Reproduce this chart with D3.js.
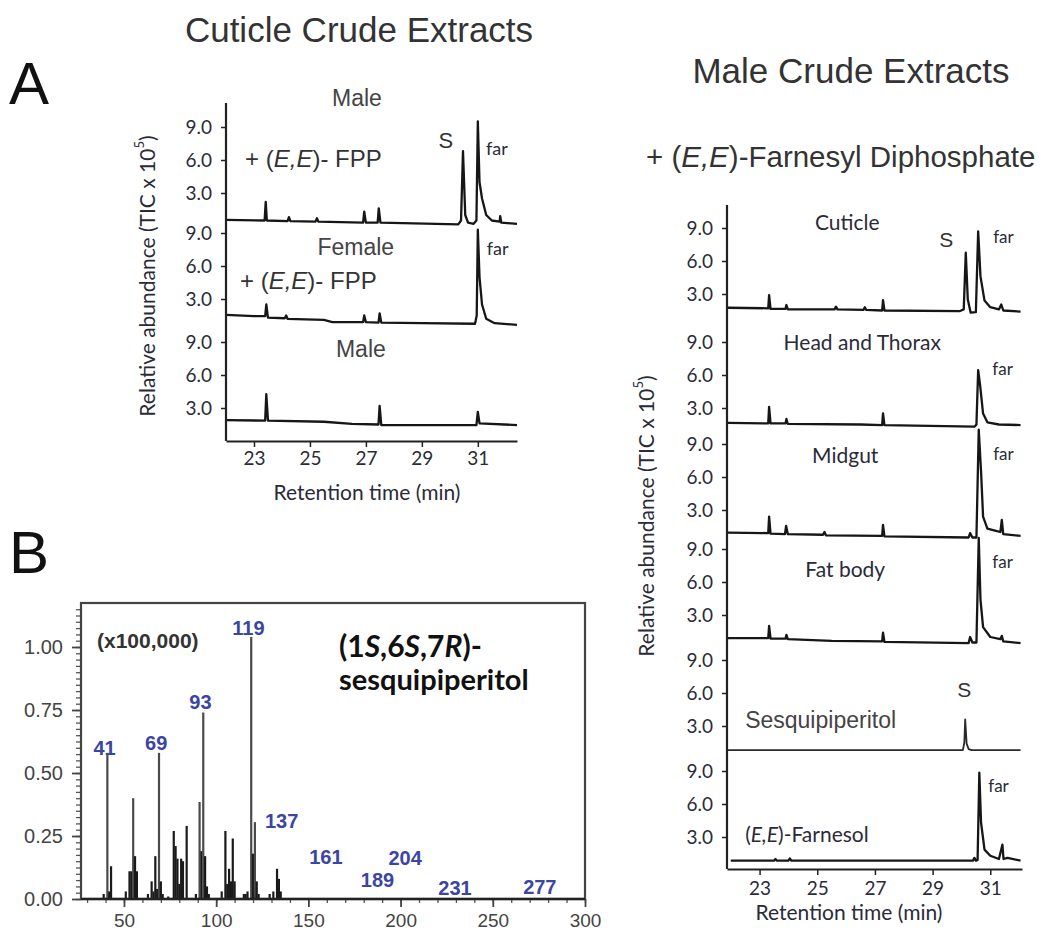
<!DOCTYPE html>
<html>
<head>
<meta charset="utf-8">
<script src="https://cdn.jsdelivr.net/npm/d3@7"></script>
<style>
  body { margin: 0; background: #fff; }
</style>
</head>
<body>
<div id="fig"></div>
<script>
// ---- data ----
// chromatogram traces: [retention time (min), abundance (TIC x 10^5)]
const yTickValues = [3.0, 6.0, 9.0];
const timeTicks = [23, 25, 27, 29, 31];

const cutMaleFPP = [[22, 0.55], [23.38, 0.5], [23.42, 2.2], [23.46, 0.5], [24.2, 0.45], [24.25, 0.8], [24.3, 0.45],
  [25.2, 0.4], [25.25, 0.7], [25.3, 0.4], [26.9, 0.3], [26.94, 1.3], [27.0, 0.3], [27.42, 0.3], [27.46, 1.6],
  [27.52, 0.3], [30.3, 0.15], [30.4, 0.5], [30.47, 6.8], [30.55, 1.0], [30.65, 0.3], [30.85, 0.2], [30.95, 0.5],
  [31.0, 9.5], [31.06, 4.0], [31.15, 2.5], [31.3, 1.0], [31.5, 0.5], [31.78, 0.4], [31.8, 0.9], [31.84, 0.3], [32.4, 0.2]];
const cutFemaleFPP = [[22, 1.55], [23.0, 1.45], [23.4, 1.45], [23.44, 2.5], [23.5, 1.3], [24.1, 1.25], [24.15, 1.5],
  [24.2, 1.2], [25.5, 1.1], [25.8, 0.9], [26.9, 0.9], [26.94, 1.5], [27.0, 0.9], [27.45, 0.85], [27.49, 1.7],
  [27.55, 0.85], [29, 0.8], [30.9, 0.75], [30.96, 1.5], [31.0, 9.3], [31.06, 5.0], [31.15, 2.5], [31.3, 1.2],
  [31.6, 0.8], [32.4, 0.65]];
const cutMale = [[22, 1.9], [23.4, 1.85], [23.44, 4.25], [23.5, 1.85], [25.5, 1.75], [26.5, 1.55], [27.45, 1.5],
  [27.49, 3.2], [27.55, 1.45], [30.95, 1.45], [31.0, 2.65], [31.06, 1.6], [32.4, 1.45]];

const maleCuticle = [[21.9, 1.75], [23.3, 1.7], [23.33, 2.9], [23.38, 1.65], [23.9, 1.65], [23.93, 2.0], [23.98, 1.6],
  [25.6, 1.6], [25.65, 1.85], [25.7, 1.6], [26.6, 1.55], [26.65, 1.8], [26.7, 1.55], [27.25, 1.5], [27.28, 2.45],
  [27.33, 1.5], [29.95, 1.45], [30.08, 1.6], [30.15, 6.75], [30.22, 2.5], [30.32, 1.3], [30.5, 1.35], [30.58, 8.7],
  [30.66, 4.6], [30.8, 2.4], [31.0, 1.8], [31.3, 1.6], [31.38, 2.05], [31.45, 1.5], [32.05, 1.4]];
const maleHeadThorax = [[21.9, 1.65], [23.3, 1.6], [23.33, 3.1], [23.38, 1.6], [23.9, 1.6], [23.93, 2.0], [23.98, 1.55],
  [26.5, 1.5], [27.25, 1.45], [27.28, 2.5], [27.33, 1.45], [30.45, 1.3], [30.52, 1.5], [30.58, 6.45], [30.65, 5.0],
  [30.75, 2.5], [30.9, 1.7], [31.3, 1.5], [32.05, 1.45]];
const maleMidgut = [[21.9, 0.95], [23.3, 0.9], [23.33, 2.4], [23.38, 0.85], [23.88, 0.8], [23.92, 1.55], [23.98, 0.8],
  [25.2, 0.75], [25.25, 1.0], [25.3, 0.7], [27.25, 0.65], [27.28, 1.65], [27.33, 0.6], [30.25, 0.5], [30.3, 0.9],
  [30.38, 0.5], [30.52, 0.5], [30.6, 10.3], [30.68, 6.5], [30.75, 2.4], [30.9, 1.3], [31.2, 1.1], [31.35, 1.0],
  [31.4, 2.1], [31.45, 0.8], [32.05, 0.65]];
const maleFatBody = [[21.9, 0.9], [23.3, 0.9], [23.33, 2.0], [23.38, 0.85], [23.9, 0.85], [23.93, 1.2], [23.98, 0.8],
  [25.5, 0.65], [27.25, 0.6], [27.28, 1.4], [27.33, 0.55], [30.25, 0.45], [30.3, 1.0], [30.38, 0.5], [30.52, 0.5],
  [30.6, 10.0], [30.66, 4.4], [30.75, 1.9], [31.0, 1.0], [31.35, 0.8], [31.4, 1.1], [31.45, 0.6], [32.05, 0.45]];
const stdSesquipiperitol = [[21.9, 0.8], [30.05, 0.8], [30.1, 1.5], [30.13, 3.6], [30.18, 1.4], [30.25, 0.9],
  [30.35, 0.8], [32.05, 0.8]];
const stdFarnesol = [[22.0, 0.85], [23.5, 0.85], [23.55, 1.0], [23.6, 0.85], [24.0, 0.85], [24.05, 1.05], [24.1, 0.85],
  [30.4, 0.85], [30.45, 1.1], [30.5, 0.85], [30.56, 0.9], [30.62, 8.85], [30.68, 4.3], [30.8, 1.85], [31.0, 1.3],
  [31.3, 1.0], [31.42, 2.3], [31.46, 1.0], [31.6, 1.1], [32.05, 0.85]];

// mass spectrum of (1S,6S,7R)-sesquipiperitol (x100,000)
const msMz = [39, 41, 42, 43, 51, 53, 54, 55, 56, 57, 63, 65, 66, 67, 68, 69, 70, 71, 74, 77, 78, 79, 80, 81, 82, 84,
  89, 91, 92, 93, 94, 95, 96, 103, 105, 106, 107, 108, 109, 110, 115, 116, 117, 119, 120, 121, 122, 123, 129, 131,
  133, 134, 135];
const msAbund = [0.02, 0.58, 0.03, 0.13, 0.03, 0.11, 0.11, 0.40, 0.17, 0.11, 0.02, 0.07, 0.03, 0.17, 0.04, 0.58, 0.07,
  0.02, 0.01, 0.27, 0.21, 0.16, 0.06, 0.16, 0.15, 0.29, 0.02, 0.385, 0.19, 0.74, 0.17, 0.05, 0.02, 0.03, 0.27, 0.06,
  0.12, 0.07, 0.24, 0.07, 0.02, 0.02, 0.03, 1.04, 0.18, 0.305, 0.07, 0.02, 0.02, 0.03, 0.12, 0.08, 0.03];
const msLabelMz = [41, 69, 93, 119, 137, 161, 189, 204, 231, 277];
const msLabelLevel = [0.60, 0.62, 0.78, 1.075, 0.31, 0.167, 0.075, 0.163, 0.044, 0.048];
const msTicks = [50, 100, 150, 200, 250, 300];
const msYTicks = [0, 0.25, 0.5, 0.75, 1.0];

// ---- drawing ----
const ARIAL = "'Liberation Sans', Arial, sans-serif";
const CAL = "Lato, 'Open Sans', sans-serif";
const INK = "#2b2b38";

const svg = d3.select("#fig").append("svg")
  .attr("width", 1041).attr("height", 934)
  .style("background", "#fff");

// text with italic pieces: parts = [[string, italic], ...]
function richText(g, x, y, parts, opts) {
  const t = g.append("text").attr("x", x).attr("y", y)
    .attr("font-family", opts.family).attr("font-size", opts.size)
    .attr("fill", opts.fill || "#333")
    .attr("font-weight", opts.weight || "normal")
    .attr("text-anchor", opts.anchor || "start");
  parts.forEach(p => t.append("tspan").text(p[0]).attr("font-style", p[1] ? "italic" : "normal"));
  return t;
}

function drawStack(cfg, traces) {
  const g = svg.append("g");
  const x = d3.scaleLinear().domain([cfg.tMin, cfg.tMax]).range([cfg.x0, cfg.x1]);

  traces.forEach((tr, i) => {
    const bottom = cfg.bottoms[i];
    const y = d3.scaleLinear().domain([0, 9]).range([bottom, bottom - 9 * cfg.ppu]);

    const ax = g.append("g").attr("transform", `translate(${cfg.x0},0)`)
      .call(d3.axisLeft(y).tickValues(yTickValues).tickFormat(d3.format(".1f")).tickSize(5).tickPadding(9));
    ax.select(".domain").remove();
    ax.selectAll("line").attr("stroke", "#222").attr("stroke-width", 1.5);
    ax.selectAll("text").attr("font-family", CAL).attr("font-size", 19).attr("fill", INK);

    const line = d3.line().x(d => x(d[0])).y(d => y(d[1]));
    g.append("path").datum(tr.data).attr("d", line)
      .attr("fill", "none").attr("stroke", tr.color || "#161616")
      .attr("stroke-width", tr.width || 2.3).attr("stroke-linejoin", "round");

    // labels placed in data units of this sub-panel
    tr.labels.forEach(l => {
      richText(g, x(l.t), y(l.v), l.parts, {
        family: l.family || CAL, size: l.size || 21, fill: l.fill || INK, anchor: l.anchor || "start"
      });
    });
  });

  // shared y axis line
  g.append("line").attr("x1", cfg.x0).attr("x2", cfg.x0).attr("y1", cfg.top).attr("y2", cfg.axisY)
    .attr("stroke", "#222").attr("stroke-width", 2.2);

  const xa = g.append("g").attr("transform", `translate(0,${cfg.axisY})`)
    .call(d3.axisBottom(x).tickValues(timeTicks).tickSize(6).tickSizeOuter(0).tickPadding(cfg.pad));
  xa.select(".domain").attr("stroke", "#222").attr("stroke-width", 2.2);
  xa.selectAll("line").attr("stroke", "#222").attr("stroke-width", 1.5);
  xa.selectAll("text").attr("font-family", CAL).attr("font-size", 19).attr("fill", INK);

  g.append("text").attr("x", cfg.xTitleX).attr("y", cfg.xTitleY).attr("text-anchor", "middle")
    .attr("font-family", CAL).attr("font-size", 21).attr("fill", INK).text("Retention time (min)");

  const yl = g.append("text")
    .attr("transform", `translate(${cfg.yTitleX},${cfg.yTitleY}) rotate(-90)`)
    .attr("text-anchor", "middle").attr("dominant-baseline", "central")
    .attr("font-family", CAL).attr("font-size", 21).attr("fill", INK);
  yl.append("tspan").text("Relative abundance (TIC x 10");
  yl.append("tspan").text("5").attr("font-size", 13).attr("dy", -7);
  yl.append("tspan").text(")").attr("dy", 7);
}

const fpp = [["+ (", false], ["E,E", true], [")- FPP", false]];

// Panel A left: cuticle crude extracts
drawStack({
  tMin: 22, tMax: 32.4, x0: 226, x1: 517, top: 103, axisY: 441, ppu: 11,
  bottoms: [226, 332, 441], pad: 5, xTitleX: 367, xTitleY: 500, yTitleX: 146, yTitleY: 276
}, [
  { data: cutMaleFPP, labels: [
    { t: 26.68, v: 10.9, parts: [["Male", false]], family: ARIAL, size: 23, fill: "#444", anchor: "middle" },
    { t: 22.68, v: 5.36, parts: fpp, family: ARIAL, size: 24, fill: "#333" },
    { t: 29.86, v: 7.09, parts: [["S", false]], family: ARIAL, size: 22, fill: "#333", anchor: "middle" },
    { t: 31.29, v: 6.45, parts: [["far", false]], size: 18 }
  ] },
  { data: cutFemaleFPP, labels: [
    { t: 26.64, v: 7.0, parts: [["Female", false]], family: ARIAL, size: 23, fill: "#444", anchor: "middle" },
    { t: 22.5, v: 3.9, parts: fpp, family: ARIAL, size: 24, fill: "#333" },
    { t: 31.32, v: 7.0, parts: [["far", false]], size: 18 }
  ] },
  { data: cutMale, labels: [
    { t: 26.82, v: 7.64, parts: [["Male", false]], family: ARIAL, size: 23, fill: "#444", anchor: "middle" }
  ] }
]);

// right: male crude extracts + farnesyl diphosphate
drawStack({
  tMin: 21.87, tMax: 32.1, x0: 727, x1: 1022, top: 205, axisY: 869, ppu: 11,
  bottoms: [327, 441, 543, 648, 759, 870], pad: 7, xTitleX: 849, xTitleY: 920, yTitleX: 645, yTitleY: 516
}, [
  { data: maleCuticle, labels: [
    { t: 26.04, v: 8.82, parts: [["Cuticle", false]], anchor: "middle" },
    { t: 29.47, v: 7.27, parts: [["S", false]], family: ARIAL, size: 21, fill: "#333", anchor: "middle" },
    { t: 31.10, v: 7.64, parts: [["far", false]], size: 17 }
  ] },
  { data: maleHeadThorax, labels: [
    { t: 26.56, v: 8.27, parts: [["Head and Thorax", false]], anchor: "middle" },
    { t: 31.07, v: 6.0, parts: [["far", false]], size: 17 }
  ] },
  { data: maleMidgut, labels: [
    { t: 25.97, v: 7.27, parts: [["Midgut", false]], anchor: "middle" },
    { t: 31.10, v: 7.55, parts: [["far", false]], size: 17 }
  ] },
  { data: maleFatBody, labels: [
    { t: 25.97, v: 6.45, parts: [["Fat body", false]], anchor: "middle" },
    { t: 31.07, v: 7.27, parts: [["far", false]], size: 17 }
  ] },
  { data: stdSesquipiperitol, width: 1.8, color: "#2a2a2a", labels: [
    { t: 30.10, v: 5.64, parts: [["S", false]], family: ARIAL, size: 21, fill: "#333", anchor: "middle" },
    { t: 22.5, v: 2.82, parts: [["Sesquipiperitol", false]], family: ARIAL, size: 23, fill: "#444" }
  ] },
  { data: stdFarnesol, labels: [
    { t: 22.5, v: 2.55, parts: [["(", false], ["E,E", true], [")-Farnesol", false]] },
    { t: 30.93, v: 7.09, parts: [["far", false]], size: 17 }
  ] }
]);

// titles and panel letters
svg.append("text").attr("x", 359).attr("y", 42).attr("text-anchor", "middle")
  .attr("font-family", ARIAL).attr("font-size", 35).attr("fill", "#333").text("Cuticle Crude Extracts");
svg.append("text").attr("x", 851).attr("y", 83).attr("text-anchor", "middle")
  .attr("font-family", ARIAL).attr("font-size", 35).attr("fill", "#333").text("Male Crude Extracts");
richText(svg, 646, 167, [["+ (", false], ["E,E", true], [")-Farnesyl Diphosphate", false]],
  { family: ARIAL, size: 29.5, fill: "#333" });
svg.append("text").attr("x", 9).attr("y", 104).attr("font-family", ARIAL).attr("font-size", 60)
  .attr("fill", "#111").text("A");
svg.append("text").attr("x", 9).attr("y", 573).attr("font-family", ARIAL).attr("font-size", 60)
  .attr("fill", "#111").text("B");

// Panel B: mass spectrum
const ms = { left: 81, right: 585, top: 603, bottom: 899 };
const mx = d3.scaleLinear().domain([26.7, 300]).range([ms.left, ms.right]);
const my = d3.scaleLinear().domain([0, 1]).range([ms.bottom, ms.bottom - 252]);
const gB = svg.append("g");

// minor ticks
const yMinor = d3.range(0, 1.17, 0.025);
const yax = gB.append("g").attr("transform", `translate(${ms.left},0)`)
  .call(d3.axisLeft(my).tickValues(yMinor).tickSize(5).tickFormat(""));
yax.select(".domain").remove();
yax.selectAll("line").attr("stroke", "#555").attr("stroke-width", 1.3);
const yaxM = gB.append("g").attr("transform", `translate(${ms.left},0)`)
  .call(d3.axisLeft(my).tickValues(msYTicks).tickSize(9).tickPadding(9).tickFormat(d3.format(".2f")));
yaxM.select(".domain").remove();
yaxM.selectAll("line").attr("stroke", "#444").attr("stroke-width", 1.8);
yaxM.selectAll("text").attr("font-family", ARIAL).attr("font-size", 20).attr("fill", "#444");

const xMinor = d3.range(30, 301, 10);
const xax = gB.append("g").attr("transform", `translate(0,${ms.bottom})`)
  .call(d3.axisBottom(mx).tickValues(xMinor).tickSize(4).tickFormat(""));
xax.select(".domain").remove();
xax.selectAll("line").attr("stroke", "#555").attr("stroke-width", 1.3);
const xaxM = gB.append("g").attr("transform", `translate(0,${ms.bottom})`)
  .call(d3.axisBottom(mx).tickValues(msTicks).tickSize(8).tickPadding(7));
xaxM.select(".domain").remove();
xaxM.selectAll("line").attr("stroke", "#444").attr("stroke-width", 1.8);
xaxM.selectAll("text").attr("font-family", ARIAL).attr("font-size", 19).attr("fill", "#444");

// peaks
gB.selectAll("line.peak").data(msMz).join("line").attr("class", "peak")
  .attr("x1", d => mx(d)).attr("x2", d => mx(d))
  .attr("y1", my(0)).attr("y2", (d, i) => my(msAbund[i]))
  .attr("stroke", (d, i) => msAbund[i] > 0.3 ? "#4a4a4a" : "#1a1a1a")
  .attr("stroke-width", 2.2);

// frame
gB.append("rect").attr("x", ms.left).attr("y", ms.top)
  .attr("width", ms.right - ms.left).attr("height", ms.bottom - ms.top)
  .attr("fill", "none").attr("stroke", "#444").attr("stroke-width", 2.2);
gB.append("line").attr("x1", ms.left).attr("x2", ms.right).attr("y1", ms.bottom).attr("y2", ms.bottom)
  .attr("stroke", "#222").attr("stroke-width", 2.4);

// peak labels
gB.selectAll("text.mz").data(msLabelMz).join("text").attr("class", "mz")
  .attr("x", d => mx(d - 1.5)).attr("y", (d, i) => my(msLabelLevel[i]))
  .attr("text-anchor", "middle").attr("dominant-baseline", "central")
  .attr("font-family", ARIAL).attr("font-size", 20).attr("font-weight", "bold")
  .attr("fill", "#3b45a3").text(d => d);

gB.append("text").attr("x", 97).attr("y", 648)
  .attr("font-family", ARIAL).attr("font-size", 21).attr("font-weight", "bold")
  .attr("fill", "#333").text("(x100,000)");

richText(gB, 339, 657, [["(1", false], ["S", true], [",6", false], ["S", true], [",7", false], ["R", true], [")-", false]],
  { family: CAL, size: 30, weight: "bold", fill: "#111" });
gB.append("text").attr("x", 339).attr("y", 690)
  .attr("font-family", CAL).attr("font-size", 29).attr("font-weight", "bold")
  .attr("fill", "#111").text("sesquipiperitol");
</script>
</body>
</html>
